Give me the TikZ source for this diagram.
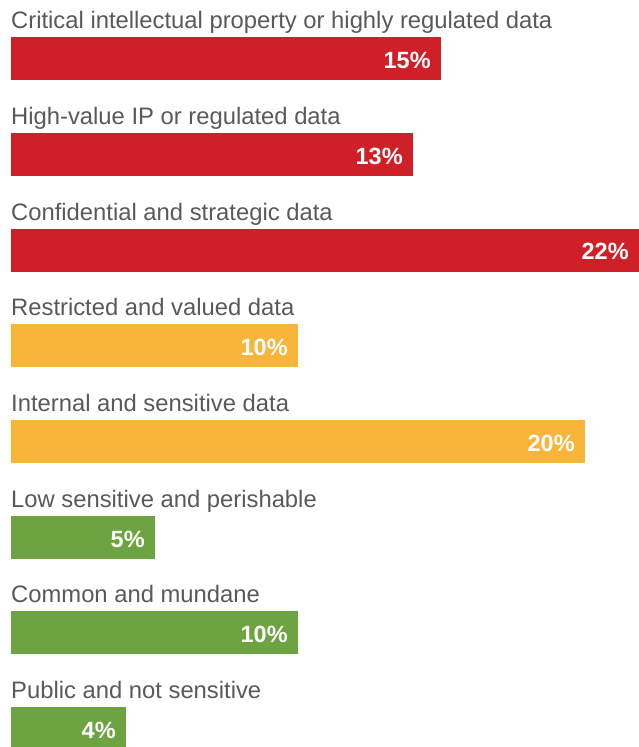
\documentclass[tikz,border=0pt]{standalone}
\usepackage{fontspec}
\setmainfont{Liberation Sans}
\definecolor{barred}{HTML}{CF2027}
\definecolor{barorange}{HTML}{F9B43A}
\definecolor{bargreen}{HTML}{6DA340}
\definecolor{labelgray}{HTML}{595959}
\begin{document}
\begin{tikzpicture}[x=1pt,y=1pt,
  lab/.style={anchor=base west,inner sep=0pt,text=labelgray,font=\fontsize{23.8}{26}\selectfont},
  barbox/.style={anchor=north west,inner sep=0pt,minimum height=43pt,draw=none},
  pct/.style={anchor=base east,inner sep=0pt,text=white,font=\bfseries\fontsize{23.5}{26}\selectfont}]
\useasboundingbox (0,0) rectangle (639,-747);
\foreach \i/\txt/\w/\c/\p in {
  0/{Critical intellectual property or highly regulated data}/430/barred/15,
  1/{High-value IP or regulated data}/402/barred/13,
  2/{Confidential and strategic data}/628/barred/22,
  3/{Restricted and valued data}/287/barorange/10,
  4/{Internal and sensitive data}/574/barorange/20,
  5/{Low sensitive and perishable}/144/bargreen/5,
  6/{Common and mundane}/287/bargreen/10,
  7/{Public and not sensitive}/115/bargreen/4}{
  \pgfmathsetmacro{\top}{-37-95.7*\i}
  \node[lab] (lab\i) at (11,\top+8.3) {\txt};
  \node[barbox,fill=\c,minimum width=\w pt] (bar\i) at (11,\top) {};
  \node[pct] (pct\i) at ([xshift=-10.5pt,yshift=-31.5pt]bar\i.north east) {\p\%};
}
\end{tikzpicture}
\end{document}
